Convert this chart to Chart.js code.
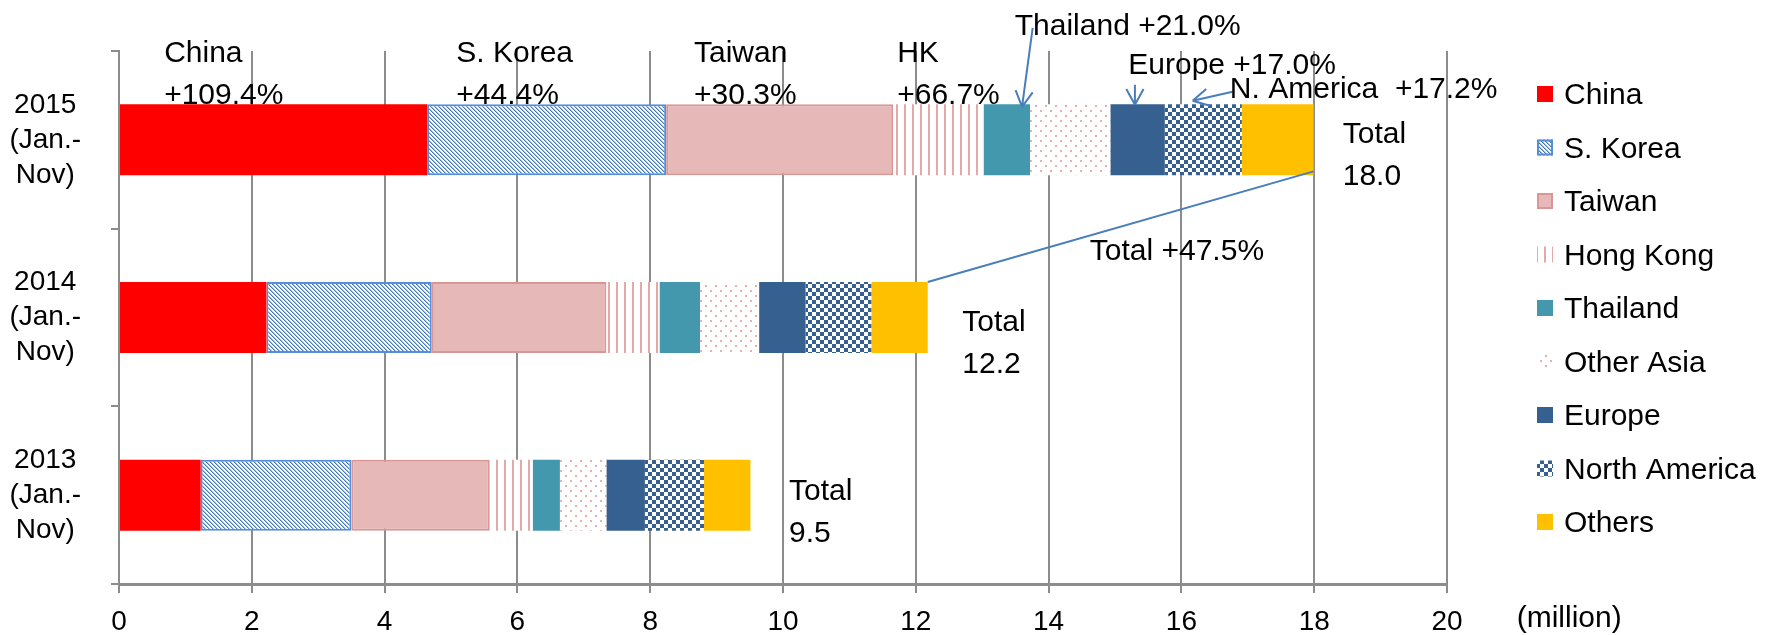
<!doctype html>
<html>
<head>
<title>Visitor arrivals by region</title>
<script src="https://cdn.jsdelivr.net/npm/chart.js@4.4.0/dist/chart.umd.min.js"></script>
<style>body{margin:0;background:#fff}</style>
</head>
<body>
<canvas id="chart" width="1777" height="635"></canvas>
<script>
// data (million visitors, Jan.-Nov.)
const years = [['2015', '(Jan.-', 'Nov)'], ['2014', '(Jan.-', 'Nov)'], ['2013', '(Jan.-', 'Nov)']];
const regions = ['China', 'S. Korea', 'Taiwan', 'Hong Kong', 'Thailand', 'Other Asia', 'Europe', 'North America', 'Others'];
const china = [4.64, 2.22, 1.23];
const korea = [3.60, 2.49, 2.27];
const taiwan = [3.42, 2.63, 2.08];
const hongKong = [1.36, 0.80, 0.65];
const thailand = [0.70, 0.61, 0.41];
const otherAsia = [1.21, 0.89, 0.70];
const europe = [0.82, 0.70, 0.58];
const northAmerica = [1.16, 0.99, 0.89];
const others = [1.08, 0.85, 0.70];
const totals = ['18.0', '12.2', '9.5'];

// text notes: x in axis units, cat = row, dy = offset from row centre
const notes = [
  {lines: ['China', '+109.4%'], x: 0.68, cat: 0, dy: -78},
  {lines: ['S. Korea', '+44.4%'], x: 5.08, cat: 0, dy: -78},
  {lines: ['Taiwan', '+30.3%'], x: 8.66, cat: 0, dy: -78},
  {lines: ['HK', '+66.7%'], x: 11.72, cat: 0, dy: -78},
  {lines: ['Thailand +21.0%'], x: 13.49, cat: 0, dy: -105},
  {lines: ['Europe +17.0%'], x: 15.2, cat: 0, dy: -66},
  {lines: ['N. America  +17.2%'], x: 16.73, cat: 0, dy: -42},
  {lines: ['Total +47.5%'], x: 14.62, cat: 1, dy: -58},
  {lines: ['Total', totals[0]], x: 18.43, cat: 0, dy: 3},
  {lines: ['Total', totals[1]], x: 12.70, cat: 1, dy: 13},
  {lines: ['Total', totals[2]], x: 10.09, cat: 2, dy: 5}
];
const arrows = [
  {from: [13.76, -112], to: [13.60, -33]},
  {from: [15.3, -55], to: [15.3, -35]},
  {from: [16.77, -48], to: [16.17, -39]}
];

const ctx = document.getElementById('chart').getContext('2d');

function pattern(w, h, draw) {
  const c = document.createElement('canvas');
  c.width = w; c.height = h;
  const g = c.getContext('2d');
  g.fillStyle = '#fff';
  g.fillRect(0, 0, w, h);
  draw(g);
  return ctx.createPattern(c, 'repeat');
}

const koreaFill = pattern(8, 8, g => {
  for (let py = 0; py < 8; py++) {
    for (let px = 0; px < 8; px++) {
      const k = ((px - py) % 4 + 4) % 4;
      if (k === 0) { g.fillStyle = '#3f78c8'; g.fillRect(px, py, 1, 1); }
      if (k === 1) { g.fillStyle = '#9dbde8'; g.fillRect(px, py, 1, 1); }
    }
  }
});
const hkFill = pattern(8, 8, g => {
  g.fillStyle = '#e2a9a8';
  g.fillRect(0, 0, 2, 8);
});
const asiaFill = pattern(10, 10, g => {
  g.fillStyle = '#e6b0af';
  g.fillRect(0, 0, 2, 2);
  g.fillRect(5, 5, 2, 2);
});
const naFill = pattern(8, 8, g => {
  g.fillStyle = '#35608f';
  g.fillRect(0, 0, 4, 4);
  g.fillRect(4, 4, 4, 4);
});

const series = [china, korea, taiwan, hongKong, thailand, otherAsia, europe, northAmerica, others];
const fills = ['#ff0000', koreaFill, '#e6b9b8', hkFill, '#4398ae', asiaFill, '#35608f', naFill, '#ffc000'];
const borders = [null, '#558ed5', '#d99694', null, null, null, null, null, null];

const datasets = series.map((d, i) => ({
  label: regions[i],
  data: d,
  backgroundColor: fills[i],
  borderColor: borders[i] || 'rgba(0,0,0,0)',
  borderWidth: borders[i] ? 2 : 0,
  borderSkipped: false,
  barPercentage: 0.4,
  categoryPercentage: 1
}));

const FONT = '"Liberation Sans", Arial, sans-serif';

const extras = {
  id: 'extras',
  afterDatasetsDraw(chart) {
    const {ctx, scales: {x, y}} = chart;
    ctx.save();
    // line between the totals
    const m = chart.getDatasetMeta(series.length - 1);
    const b14 = m.data[1], b15 = m.data[0];
    ctx.strokeStyle = '#4a7ebb';
    ctx.lineWidth = 2;
    ctx.beginPath();
    ctx.moveTo(b14.x, b14.y - b14.height / 2);
    ctx.lineTo(b15.x, b15.y + b15.height / 2 - 4);
    ctx.stroke();
    // arrows
    const c0 = y.getPixelForValue(0);
    arrows.forEach(a => {
      const x1 = x.getPixelForValue(a.from[0]), y1 = c0 + a.from[1];
      const x2 = x.getPixelForValue(a.to[0]), y2 = c0 + a.to[1];
      const ang = Math.atan2(y2 - y1, x2 - x1);
      ctx.beginPath();
      ctx.moveTo(x1, y1);
      ctx.lineTo(x2, y2);
      [-0.5, 0.5].forEach(s => {
        ctx.moveTo(x2, y2);
        ctx.lineTo(x2 - 18 * Math.cos(ang + s), y2 - 18 * Math.sin(ang + s));
      });
      ctx.stroke();
    });
    // notes
    ctx.font = '30px ' + FONT;
    ctx.fillStyle = '#000';
    ctx.textBaseline = 'alphabetic';
    notes.forEach(n => {
      const px = x.getPixelForValue(n.x);
      const py = y.getPixelForValue(n.cat) + n.dy;
      n.lines.forEach((t, i) => ctx.fillText(t, px, py + i * 42));
    });
    // unit label
    ctx.font = '30px ' + FONT;
    ctx.fillText('(million)', x.getPixelForValue(21.05), chart.chartArea.bottom + 43);
    // legend
    const lx = chart.chartArea.right + 90;
    ctx.textBaseline = 'middle';
    chart.data.datasets.forEach((ds, i) => {
      const cy = 94 + i * 53.5;
      ctx.fillStyle = ds.backgroundColor;
      ctx.fillRect(lx, cy - 8, 16, 16);
      if (ds.borderWidth) {
        ctx.strokeStyle = ds.borderColor;
        ctx.lineWidth = 2;
        ctx.strokeRect(lx + 1, cy - 7, 14, 14);
      }
      ctx.fillStyle = '#000';
      ctx.fillText(ds.label, lx + 27, cy + 2);
    });
    ctx.restore();
  }
};

new Chart(ctx, {
  type: 'bar',
  data: {labels: years, datasets: datasets},
  options: {
    indexAxis: 'y',
    responsive: false,
    animation: false,
    layout: {padding: {top: 51, right: 330, left: 0, bottom: 0}},
    plugins: {legend: {display: false}, tooltip: {enabled: false}},
    scales: {
      x: {
        stacked: true,
        min: 0,
        max: 20,
        ticks: {stepSize: 2, color: '#000', font: {family: FONT, size: 28}, padding: 12},
        grid: {color: '#8c8c8c', lineWidth: 2, tickLength: 9},
        border: {color: '#8c8c8c', width: 3},
        afterFit: s => { s.height = 51; }
      },
      y: {
        stacked: true,
        ticks: {color: '#000', font: {family: FONT, size: 28, lineHeight: 1.25}, crossAlign: 'center', padding: 30},
        grid: {drawOnChartArea: false, offset: true, color: '#8c8c8c', lineWidth: 2, tickLength: 8},
        border: {color: '#8c8c8c', width: 2},
        afterFit: s => { s.width = 119; s.paddingTop = 0; s.paddingBottom = 0; }
      }
    }
  },
  plugins: [extras]
});
</script>
</body>
</html>
